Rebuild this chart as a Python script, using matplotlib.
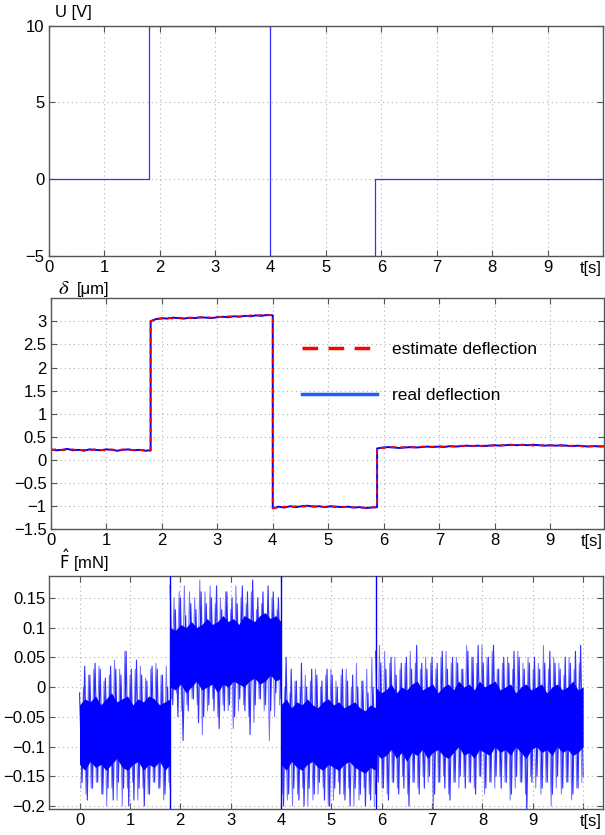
import numpy as np
import matplotlib
matplotlib.use("Agg")
import matplotlib.pyplot as plt
from matplotlib.lines import Line2D

plt.rcParams['font.family'] = ['Liberation Sans', 'DejaVu Sans']
plt.rcParams['font.size'] = 12
plt.rcParams['mathtext.fontset'] = 'dejavusans'

# ---- panel 1: input voltage (step levels) ----
u_times = [0.0, 1.8, 4.0, 5.88, 10.0]
u_levels = [0, 10, -5, 0]

# ---- panel 2: deflection, values per segment ----
seg_edges = [0.0, 1.8, 4.0, 5.88, 10.0]
real_seg1 = [0.23, 0.21, 0.22, 0.24, 0.21, 0.22, 0.20, 0.23, 0.22, 0.21,
             0.23, 0.22, 0.20, 0.22, 0.23, 0.21, 0.22, 0.20, 0.21]
real_seg2 = [3.00, 3.05, 3.07, 3.06, 3.08, 3.07, 3.06, 3.08, 3.07, 3.09,
             3.08, 3.07, 3.09, 3.10, 3.09, 3.11, 3.10, 3.12, 3.11, 3.13,
             3.12, 3.14, 3.13]
real_seg3 = [-1.05, -1.01, -1.03, -1.00, -1.02, -1.00, -0.99, -1.01, -1.00, -1.02,
             -1.00, -1.01, -1.02, -1.01, -1.03, -1.02, -1.04, -1.03, -1.02]
real_seg4 = [0.25, 0.27, 0.28, 0.27, 0.26, 0.27, 0.28, 0.27, 0.28, 0.29,
             0.28, 0.29, 0.28, 0.30, 0.29, 0.30, 0.31, 0.30, 0.31, 0.30,
             0.31, 0.32, 0.31, 0.32, 0.33, 0.32, 0.33, 0.32, 0.33, 0.32,
             0.31, 0.32, 0.31, 0.32, 0.31, 0.30, 0.31, 0.30, 0.29, 0.30,
             0.29, 0.30]
est_seg1 = [0.22, 0.23, 0.21, 0.22, 0.23, 0.21, 0.22, 0.21, 0.23, 0.22,
            0.20, 0.23, 0.21, 0.23, 0.21, 0.22, 0.21, 0.22, 0.20]
est_seg2 = [3.01, 3.04, 3.06, 3.08, 3.06, 3.08, 3.07, 3.07, 3.09, 3.08,
            3.09, 3.08, 3.10, 3.09, 3.11, 3.10, 3.11, 3.11, 3.13, 3.12,
            3.14, 3.13, 3.14]
est_seg3 = [-1.04, -1.03, -1.01, -1.02, -1.00, -1.01, -1.00, -1.00, -1.02, -1.01,
            -1.01, -1.02, -1.01, -1.03, -1.02, -1.03, -1.03, -1.02, -1.03]
est_seg4 = [0.26, 0.26, 0.27, 0.28, 0.27, 0.28, 0.27, 0.28, 0.29, 0.28,
            0.29, 0.30, 0.29, 0.29, 0.30, 0.31, 0.30, 0.31, 0.30, 0.31,
            0.32, 0.31, 0.32, 0.32, 0.32, 0.33, 0.32, 0.33, 0.31, 0.32,
            0.32, 0.31, 0.32, 0.31, 0.30, 0.31, 0.31, 0.29, 0.30, 0.30,
            0.30, 0.29]

# ---- panel 3: estimated force, spike envelope per 0.1 s and dense core ----
f_up_seg1 = [-0.01, 0.035, 0.02, 0.04, 0.03, 0.015, 0.035, 0.03, 0.02, 0.06,
             0.03, 0.045, 0.02, 0.01, 0.035, 0.03, 0.02, 0.0]
f_lo_seg1 = [-0.16, -0.19, -0.17, -0.16, -0.18, -0.17, -0.19, -0.16, -0.17, -0.2,
             -0.19, -0.17, -0.2, -0.18, -0.16, -0.17, -0.18, -0.17]
f_up_seg2 = [0.17, 0.13, 0.15, 0.12, 0.14, 0.13, 0.16, 0.14, 0.15, 0.17, 0.13,
             0.16, 0.15, 0.14, 0.17, 0.16, 0.18, 0.15, 0.16, 0.17, 0.16, 0.15]
f_lo_seg2 = [-0.03, -0.05, -0.09, -0.04, -0.02, -0.06, -0.05, -0.03, -0.04, -0.07, -0.04,
             -0.03, -0.05, -0.02, -0.04, -0.08, -0.03, -0.02, -0.03, -0.04, -0.01, -0.02]
f_up_seg3 = [0.02, 0.05, 0.03, 0.01, 0.04, 0.0, 0.03, 0.02, 0.01, 0.03,
             0.02, 0.0, 0.03, 0.01, 0.02, 0.0, 0.01, -0.01, 0.0]
f_lo_seg3 = [-0.2, -0.18, -0.17, -0.19, -0.2, -0.17, -0.18, -0.16, -0.19, -0.2,
             -0.17, -0.18, -0.19, -0.2, -0.17, -0.18, -0.2, -0.19, -0.18]
f_up_seg4 = [0.06, 0.04, 0.03, 0.05, 0.02, 0.04, 0.05, 0.03, 0.07, 0.04,
             0.03, 0.05, 0.04, 0.06, 0.03, 0.05, 0.04, 0.03, 0.06, 0.05,
             0.07, 0.04, 0.05, 0.07, 0.03, 0.05, 0.04, 0.06, 0.05, 0.03,
             0.04, 0.05, 0.03, 0.04, 0.06, 0.04, 0.03, 0.05, 0.04, 0.06, 0.07]
f_lo_seg4 = [-0.16, -0.17, -0.19, -0.16, -0.18, -0.17, -0.2, -0.16, -0.18, -0.17,
             -0.15, -0.18, -0.16, -0.17, -0.19, -0.16, -0.15, -0.17, -0.16, -0.18,
             -0.15, -0.17, -0.16, -0.15, -0.17, -0.16, -0.18, -0.15, -0.16, -0.21,
             -0.16, -0.15, -0.17, -0.16, -0.18, -0.15, -0.17, -0.16, -0.18, -0.17, -0.15]
# dense core of the force band, per 0.1 s
f_chi_seg1 = [-0.03, -0.02, -0.025, -0.015, -0.03, -0.02, -0.01, -0.025, -0.02,
              -0.015, -0.03, -0.02, -0.025, -0.015, -0.02, -0.03, -0.025, -0.02]
f_clo_seg1 = [-0.13, -0.14, -0.125, -0.135, -0.13, -0.14, -0.13, -0.12, -0.135,
              -0.14, -0.13, -0.125, -0.14, -0.13, -0.135, -0.125, -0.14, -0.13]
f_chi_seg2 = [0.1, 0.095, 0.105, 0.1, 0.11, 0.1, 0.105, 0.115, 0.105, 0.11, 0.12,
              0.11, 0.115, 0.105, 0.12, 0.115, 0.11, 0.12, 0.125, 0.115, 0.12, 0.11]
f_clo_seg2 = [0.0, -0.005, 0.005, -0.01, 0.0, 0.01, -0.005, 0.0, 0.005, -0.01, 0.005,
              0.0, 0.01, 0.005, 0.0, 0.01, 0.015, 0.005, 0.01, 0.02, 0.01, 0.015]
f_chi_seg3 = [-0.03, -0.02, -0.035, -0.025, -0.03, -0.02, -0.03, -0.035, -0.025, -0.02,
              -0.03, -0.025, -0.035, -0.03, -0.025, -0.035, -0.04, -0.03, -0.035]
f_clo_seg3 = [-0.13, -0.14, -0.125, -0.135, -0.14, -0.13, -0.125, -0.135, -0.14, -0.13,
              -0.135, -0.14, -0.13, -0.125, -0.135, -0.14, -0.145, -0.135, -0.14]
f_chi_seg4 = [0.0, -0.01, -0.005, 0.005, -0.01, 0.0, -0.005, 0.005, 0.01, -0.005,
              0.0, 0.005, -0.01, 0.0, 0.005, -0.005, 0.01, 0.0, 0.005, -0.005,
              0.01, 0.0, 0.005, 0.01, -0.005, 0.0, 0.005, -0.01, 0.0, 0.005,
              -0.005, 0.0, 0.005, -0.01, 0.0, 0.005, -0.005, 0.0, 0.01, -0.005, 0.0]
f_clo_seg4 = [-0.11, -0.12, -0.115, -0.105, -0.12, -0.11, -0.125, -0.11, -0.115, -0.105,
              -0.12, -0.11, -0.105, -0.115, -0.12, -0.11, -0.1, -0.115, -0.11, -0.12,
              -0.105, -0.11, -0.115, -0.1, -0.11, -0.105, -0.115, -0.1, -0.11, -0.12,
              -0.105, -0.1, -0.11, -0.105, -0.115, -0.1, -0.11, -0.105, -0.115, -0.11, -0.1]
f_jump_times = [1.8, 4.0, 5.88]
f_jump_hi = [0.19, 0.19, 0.19]
f_jump_lo = [-0.21, -0.21, -0.21]

grid_kw = dict(color='#b0b0b0', linestyle=(0, (1, 3)), linewidth=0.8)
spine_col = '#555555'


def style(ax):
    for s in ax.spines.values():
        s.set_color(spine_col)
        s.set_linewidth(1.0)
    ax.tick_params(direction='in', top=True, right=True, length=4,
                   color=spine_col, labelsize=12, pad=3)
    ax.grid(True, **grid_kw)
    ax.set_axisbelow(True)


def concat(segs):
    xs, ys = [], []
    for i, vals in enumerate(segs):
        xs.append(np.linspace(seg_edges[i], seg_edges[i + 1], len(vals)))
        ys.append(np.asarray(vals))
    return np.concatenate(xs), np.concatenate(ys)


fig = plt.figure(figsize=(6.05, 8.35), dpi=100)

# panel 1
ax1 = fig.add_axes([0.0805, 0.6934, 0.9165, 0.2758])
ax1.plot(u_times, u_levels + [u_levels[-1]], drawstyle='steps-post',
         color='#3333ff', lw=0.9)
ax1.set_xlim(0, 10)
ax1.set_ylim(-5, 10)
ax1.set_xticks(range(0, 11))
ax1.set_xticklabels([str(i) for i in range(10)] + [''])
ax1.set_yticks([-5, 0, 5, 10])
style(ax1)
ax1.text(0.012, 1.025, 'U [V]', transform=ax1.transAxes, fontsize=12, va='bottom')
ax1.text(0.997, -0.022, 't[s]', transform=ax1.transAxes, fontsize=12,
         ha='right', va='top')

# panel 2
ax2 = fig.add_axes([0.0838, 0.3661, 0.9148, 0.2767])
tr, yr = concat([real_seg1, real_seg2, real_seg3, real_seg4])
te, ye = concat([est_seg1, est_seg2, est_seg3, est_seg4])
ax2.plot(tr, yr, color='#0000ff', lw=1.4)
ax2.plot(te, ye, color='#ff0000', lw=1.3, dashes=(3, 2.5))
ax2.set_xlim(0, 9.97)
ax2.set_ylim(-1.5, 3.5)
ax2.set_xticks(range(0, 10))
ax2.set_yticks(np.arange(-1.5, 3.01, 0.5))
ax2.set_yticklabels(['\u22121.5', '\u22121', '\u22120.5', '0', '0.5', '1',
                     '1.5', '2', '2.5', '3'])
style(ax2)
ax2.text(0.013, 1.0, r'$\delta$', transform=ax2.transAxes, fontsize=15,
         va='bottom', math_fontfamily='stix')
ax2.text(0.047, 1.005, '[μm]', transform=ax2.transAxes, fontsize=12,
         va='bottom')
ax2.text(0.997, -0.022, 't[s]', transform=ax2.transAxes, fontsize=12,
         ha='right', va='top')
handles = [Line2D([], [], color='#ff0000', lw=2.5, dashes=(4.5, 3)),
           Line2D([], [], color='#1f5fff', lw=2.5)]
ax2.legend(handles, ['estimate deflection', 'real deflection'],
           loc='upper left', bbox_to_anchor=(0.454, 0.81), frameon=False,
           borderaxespad=0, borderpad=0, handlelength=4.3, handletextpad=0.9,
           labelspacing=1.75, fontsize=12.5)

# panel 3
ax3 = fig.add_axes([0.0815, 0.0308, 0.9157, 0.2797])
ups = [f_up_seg1, f_up_seg2, f_up_seg3, f_up_seg4]
los = [f_lo_seg1, f_lo_seg2, f_lo_seg3, f_lo_seg4]
chis = [f_chi_seg1, f_chi_seg2, f_chi_seg3, f_chi_seg4]
clos = [f_clo_seg1, f_clo_seg2, f_clo_seg3, f_clo_seg4]
for i in range(4):
    n = len(ups[i])
    tc = np.linspace(seg_edges[i], seg_edges[i + 1], n)
    ax3.fill_between(tc, clos[i], chis[i], color='#0000ff', lw=0, zorder=2)
    tz = np.linspace(seg_edges[i], seg_edges[i + 1], 2 * n)
    zig = np.empty(2 * n)
    zig[0::2] = ups[i]
    zig[1::2] = los[i]
    ax3.plot(tz, zig, color='#0000ff', lw=0.8, alpha=0.8, zorder=3)
    # second pass, same envelope values in reverse order, shifted half a step
    zig2 = np.empty(2 * n)
    zig2[0::2] = los[i][::-1]
    zig2[1::2] = ups[i][::-1]
    h = (tz[1] - tz[0]) / 2
    ax3.plot(tz[:-1] + h, zig2[:-1], color='#0000ff', lw=0.7, alpha=0.55, zorder=3)
ax3.vlines(f_jump_times, f_jump_lo, f_jump_hi, color='#0000ff', lw=1.0, zorder=3)
ax3.set_xlim(-0.6, 10.4)
ax3.set_ylim(-0.2055, 0.187)
ax3.set_xticks(range(0, 11))
ax3.set_xticklabels([str(i) for i in range(10)] + [''])
yt = [-0.2, -0.15, -0.1, -0.05, 0, 0.05, 0.1, 0.15]
ax3.set_yticks(yt)
ax3.set_yticklabels(['\u22120.2', '\u22120.15', '\u22120.1', '\u22120.05', '0',
                     '0.05', '0.1', '0.15'])
style(ax3)
ax3.text(0.018, 1.008, r'$\hat{\mathrm{F}}$ [mN]', transform=ax3.transAxes,
         fontsize=12, va='bottom')
ax3.text(0.997, -0.022, 't[s]', transform=ax3.transAxes, fontsize=12,
         ha='right', va='top')

fig.savefig('out.png', dpi=100)
